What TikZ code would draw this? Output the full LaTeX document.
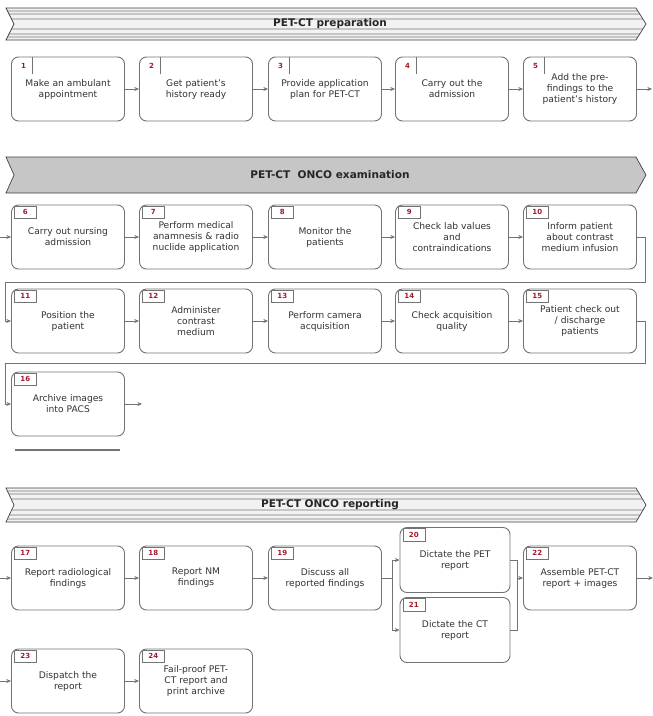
\documentclass[tikz,border=0pt]{standalone}
\usepackage{fontspec}
\setmainfont{DejaVu Sans}
\usetikzlibrary{arrows.meta,positioning}
\definecolor{tagred}{RGB}{165,25,45}
\definecolor{boxline}{gray}{0.45}
\begin{document}
\begin{tikzpicture}[x=0.03cm,y=-0.03cm,
  task/.style={draw=boxline,line width=0.8pt,rounded corners=6pt,fill=white,
    minimum width=3.39cm,minimum height=1.92cm,text width=3.2cm,align=center,
    inner sep=1pt,text=black!80,font=\fontsize{7.8}{9.4}\selectfont},
  tag/.style={draw=boxline,text=tagred,anchor=north west,inner sep=0pt,
    minimum width=0.66cm,minimum height=0.38cm,font=\fontsize{6}{7}\selectfont\bfseries},
  tagA/.style={text=tagred,anchor=north west,inner sep=0pt,
    minimum width=0.5cm,minimum height=0.45cm,font=\fontsize{6}{7}\selectfont\bfseries},
  flow/.style={draw=boxline,line width=0.7pt,-{Stealth[length=4pt,width=3.5pt]}},
  link/.style={draw=boxline,line width=0.7pt},
  band/.style={draw=gray!50!black,line width=0.6pt},
  title/.style={font=\fontsize{9}{11}\selectfont\bfseries,text=black!85}]
\useasboundingbox (0,0) rectangle (653,716);

% PET-CT preparation
\begin{scope}
\clip (6,8) -- (636,8) -- (646,24) -- (636,40) -- (6,40) -- (14,24) -- cycle;
\fill[gray!10] (0,0) rectangle (653,45);
\foreach \y in {11,14,19,29,34,37}
\draw[gray!45,line width=0.9pt] (0,\y) -- (653,\y);
\end{scope}
\draw[band] (6,8) -- (636,8) -- (646,24) -- (636,40) -- (6,40) -- (14,24) -- cycle;
\node[title] (h1) at (330,24) {PET-CT preparation};

\foreach \x/\n/\txt in {68/1/{Make an ambulant\\appointment},
  196/2/{Get patient's\\history ready},
  325/3/{Provide application\\plan for PET-CT},
  452/4/{Carry out the\\admission},
  580/5/{Add the pre-\\findings to the\\patient's history}}{
\node[task] (t\n) at (\x,89) {\txt};
\node[tagA] (g\n) at ([shift={(4,2)}]t\n.north west) {\n};
\draw[link] (g\n.east |- t\n.north) -- (g\n.south east);
}
\foreach \a/\b in {t1/t2,t2/t3,t3/t4,t4/t5}
\draw[flow] (\a) -- (\b);
\coordinate (o1) at (652,89);
\draw[flow] (t5) -- (o1);

% PET-CT ONCO examination
\draw[band,fill=gray!45] (6,157) -- (636,157) -- (646,175) -- (636,193) -- (6,193) -- (14,175) -- cycle;
\node[title] (h2) at (330,175) {PET-CT \ ONCO examination};

\foreach \x/\n/\txt in {68/6/{Carry out nursing\\admission},
  196/7/{Perform medical\\anamnesis \& radio\\nuclide application},
  325/8/{Monitor the\\patients},
  452/9/{Check lab values\\and\\contraindications},
  580/10/{Inform patient\\about contrast\\medium infusion}}{
\node[task] (t\n) at (\x,237) {\txt};
\node[tag] (g\n) at ([shift={(3,1)}]t\n.north west) {\n};
}
\foreach \x/\n/\txt in {68/11/{Position the\\patient},
  196/12/{Administer\\contrast\\medium},
  325/13/{Perform camera\\acquisition},
  452/14/{Check acquisition\\quality},
  580/15/{Patient check out\\/ discharge\\patients}}{
\node[task] (t\n) at (\x,321) {\txt};
\node[tag] (g\n) at ([shift={(3,1)}]t\n.north west) {\n};
}
\node[task] (t16) at (68,404) {Archive images\\into PACS};
\node[tag] (g16) at ([shift={(3,1)}]t16.north west) {16};

\coordinate (i2) at (0,237);
\draw[flow] (i2) -- (t6);
\foreach \a/\b in {t6/t7,t7/t8,t8/t9,t9/t10,t11/t12,t12/t13,t13/t14,t14/t15}
\draw[flow] (\a) -- (\b);
\coordinate (r1) at (645,282);
\coordinate (l1) at (5,282);
\draw[flow] (t10.east) -| (r1) -- (l1) |- (t11.west);
\coordinate (r2) at (645,363);
\coordinate (l2) at (5,363);
\draw[flow] (t15.east) -| (r2) -- (l2) |- (t16.west);
\coordinate (o2) at (142,404);
\draw[flow] (t16) -- (o2);
\draw[link,line width=0.9pt] (15,450) -- (120,450);

% PET-CT ONCO reporting
\begin{scope}
\clip (6,488) -- (636,488) -- (646,505) -- (636,522) -- (6,522) -- (14,505) -- cycle;
\fill[gray!10] (0,480) rectangle (653,530);
\foreach \y in {491,494,499,510,515,519}
\draw[gray!45,line width=0.9pt] (0,\y) -- (653,\y);
\end{scope}
\draw[band] (6,488) -- (636,488) -- (646,505) -- (636,522) -- (6,522) -- (14,505) -- cycle;
\node[title] (h3) at (330,505) {PET-CT ONCO reporting};

\foreach \x/\y/\n/\txt in {68/578/17/{Report radiological\\findings},
  196/578/18/{Report NM\\findings},
  325/578/19/{Discuss all\\reported findings},
  580/578/22/{Assemble PET-CT\\report + images},
  68/681/23/{Dispatch the\\report},
  196/681/24/{Fail-proof PET-\\CT report and\\print archive}}{
\node[task] (t\n) at (\x,\y) {\txt};
\node[tag] (g\n) at ([shift={(3,1)}]t\n.north west) {\n};
}
\node[task,minimum width=3.3cm,minimum height=1.95cm] (t20) at (455,560) {Dictate the PET\\report};
\node[tag] (g20) at ([shift={(3,1)}]t20.north west) {20};
\node[task,minimum width=3.3cm,minimum height=1.95cm] (t21) at (455,630) {Dictate the CT\\report};
\node[tag] (g21) at ([shift={(3,1)}]t21.north west) {21};

\coordinate (i3) at (0,578);
\draw[flow] (i3) -- (t17);
\draw[flow] (t17) -- (t18);
\draw[flow] (t18) -- (t19);
\coordinate (s1) at (392,578);
\draw[link] (t19) -- (s1);
\draw[flow] (s1) |- (t20);
\draw[flow] (s1) |- (t21);
\coordinate (j1) at (517,578);
\draw[link] (t20) -| (j1);
\draw[link] (t21) -| (j1);
\draw[flow] (j1) -- (t22);
\coordinate (o3) at (653,578);
\draw[flow] (t22) -- (o3);
\coordinate (i4) at (0,681);
\draw[flow] (i4) -- (t23);
\draw[flow] (t23) -- (t24);
\end{tikzpicture}
\end{document}
